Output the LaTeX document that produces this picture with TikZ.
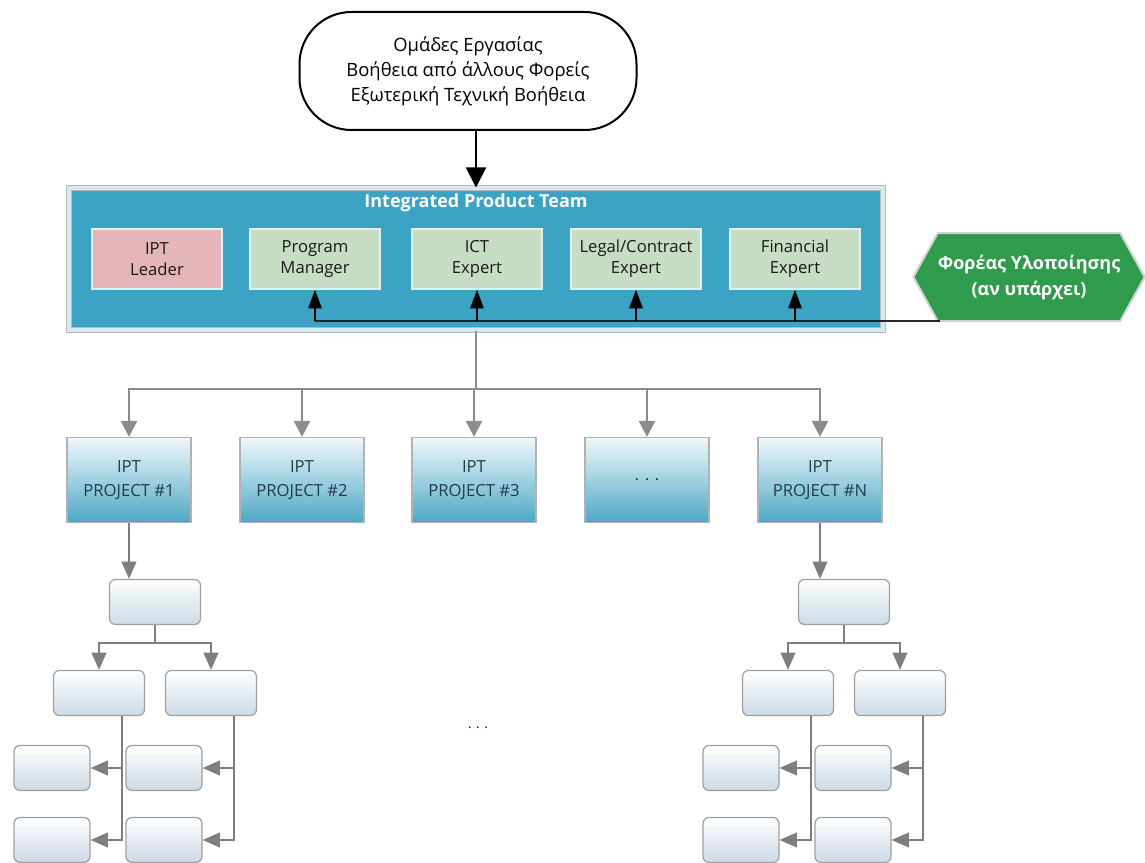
\documentclass[tikz,border=0pt]{standalone}
\usepackage{fontspec}
\setmainfont{Open Sans}
\usetikzlibrary{positioning,arrows.meta,shapes.symbols}
\newcommand{\px}{0.75pt}
\definecolor{iptBlue}{RGB}{60,163,196}
\definecolor{panelRim}{RGB}{214,233,240}
\definecolor{leaderPink}{RGB}{228,182,186}
\definecolor{expertGreen}{RGB}{200,222,196}
\definecolor{boxRim}{RGB}{222,242,246}
\definecolor{agencyGreen}{RGB}{46,156,76}
\definecolor{projTop}{RGB}{240,248,251}
\definecolor{projBottom}{RGB}{78,168,198}
\definecolor{projText}{RGB}{35,60,74}
\definecolor{leafBottom}{RGB}{204,218,230}
\definecolor{linkGray}{RGB}{140,140,140}
\tikzstyle{orgChart} = [x=\px, y=-\px]
\tikzstyle{groupsStyle} = [draw=black, line width=2*\px, rounded corners=52*\px, minimum width=337*\px, minimum height=118*\px, align=center, text=black, font=\fontsize{13.8}{18.75}\selectfont]
\tikzstyle{panelStyle} = [draw=gray!55, double=panelRim, double distance=4*\px, line width=\px, fill=iptBlue, minimum width=814*\px, minimum height=142*\px]
\tikzstyle{titleStyle} = [text=white, font=\bfseries\fontsize{13.5}{15}\selectfont]
\tikzstyle{memberStyle} = [draw=boxRim, line width=1.5*\px, minimum width=130*\px, minimum height=60*\px, align=center, text=black!90, font=\fontsize{12.5}{16}\selectfont]
\tikzstyle{leaderBox} = [memberStyle, fill=leaderPink]
\tikzstyle{expertBox} = [memberStyle, fill=expertGreen]
\tikzstyle{agencyStyle} = [shape=signal, signal to=west and east, signal pointer angle=122, fill=agencyGreen, draw=gray!35, line width=2*\px, inner xsep=0pt, minimum width=226*\px, minimum height=88*\px, align=center, text=white, font=\bfseries\fontsize{13.5}{19.5}\selectfont]
\tikzstyle{projectStyle} = [draw=gray!60, line width=1.2*\px, top color=projTop, bottom color=projBottom, minimum width=124*\px, minimum height=85*\px, align=center, text=projText, font=\fontsize{12.5}{18}\selectfont]
\tikzstyle{leafStyle} = [draw=gray!75, line width=1.2*\px, rounded corners=6*\px, top color=white, bottom color=leafBottom, minimum height=45*\px]
\tikzstyle{blackArrow} = [draw=black, line width=2*\px, -{Triangle[length=14pt, width=10pt]}]
\tikzstyle{grayArrow} = [draw=linkGray, line width=2.5*\px, -{Triangle[length=12pt, width=12pt]}]
\tikzstyle{treeArrow} = [draw=linkGray!90!black, line width=2*\px, -{Triangle[length=13pt, width=11pt]}]
\newcommand{\leafTree}[2]{
  \node[leafStyle, minimum width=91*\px] (#1top) at (#2, 602) {};
  \node[leafStyle, minimum width=91*\px] (#1a) at (#2 - 56, 693) {};
  \node[leafStyle, minimum width=91*\px] (#1b) at (#2 + 56, 693) {};
  \coordinate (#1fork) at (#2, 643);
  \draw[treeArrow] (#1top.south) -- (#1fork) -| (#1a.north);
  \draw[treeArrow] (#1top.south) -- (#1fork) -| (#1b.north);
  \foreach \branch/\branchShift in {a/-56, b/56} {
    \node[leafStyle, minimum width=76*\px] (#1\branch1) at (#2 + \branchShift - 47, 768) {};
    \node[leafStyle, minimum width=76*\px] (#1\branch2) at (#2 + \branchShift - 47, 840) {};
    \draw[treeArrow] ([xshift=23*\px]#1\branch.south) |- (#1\branch1.east);
    \draw[treeArrow] ([xshift=23*\px]#1\branch.south) |- (#1\branch2.east);
  }
}
\begin{document}
\begin{tikzpicture}[orgChart]
  \useasboundingbox (0,0) rectangle (1145,863);
  \node[groupsStyle] (groups) at (468,71) {Ομάδες Εργασίας\\Βοήθεια από άλλους Φορείς\\Εξωτερική Τεχνική Βοήθεια};
  \node[panelStyle] (panel) at (476,259) {};
  \node[titleStyle] (title) at (476,203) {Integrated Product Team};
  \node[leaderBox] (leader) at (157,259) {IPT\\Leader};
  \node[expertBox] (manager) at (315,259) {Program\\Manager};
  \node[expertBox] (ict) at (477,259) {ICT\\Expert};
  \node[expertBox] (legal) at (636,259) {Legal/Contract\\Expert};
  \node[expertBox] (finance) at (795,259) {Financial\\Expert};
  \node[agencyStyle] (agency) at (1029,277) {Φορέας Υλοποίησης\\(αν υπάρχει)};
  \coordinate (agencyFoot) at (940,321);
  \draw[blackArrow, -{Triangle[length=15pt, width=15pt]}] (groups.south -| panel.north) -- (panel.north);
  \draw[line width=2*\px, draw=black!85] (agencyFoot) -- (manager.south |- agencyFoot);
  \foreach \member in {manager, ict, legal, finance}
    \draw[blackArrow] (\member.south |- agencyFoot) -- (\member.south);
  % projects
  \node[projectStyle] (p1) at (129,480) {IPT\\PROJECT \#1};
  \node[projectStyle] (p2) at (302,480) {IPT\\PROJECT \#2};
  \node[projectStyle] (p3) at (474,480) {IPT\\PROJECT \#3};
  \node[projectStyle] (p4) at (647,480) {. . .};
  \node[projectStyle] (pN) at (820,480) {IPT\\PROJECT \#N};
  \coordinate (fork) at (476,389);
  \foreach \proj in {p1,p2,p3,p4,pN}
    \draw[grayArrow] (panel.south) -- (fork) -| (\proj.north);
  % sub-trees
  \leafTree{t1}{155}
  \leafTree{tN}{844}
  \draw[treeArrow] (p1.south) -- (p1.south |- t1top.north);
  \draw[treeArrow] (pN.south) -- (pN.south |- tNtop.north);
  \node (gap) at (478,728) {. . .};
\end{tikzpicture}
\end{document}
